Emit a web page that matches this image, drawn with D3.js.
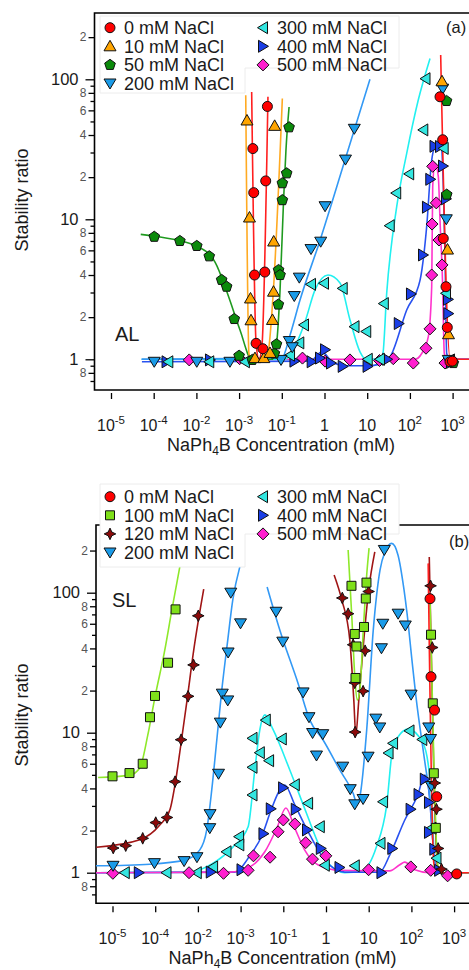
<!DOCTYPE html>
<html><head><meta charset="utf-8">
<script src="https://cdn.jsdelivr.net/npm/d3@7"></script>
<style>
html,body{margin:0;padding:0;background:#fff;}
svg{display:block;font-family:"Liberation Sans",Arial,Helvetica,sans-serif;}
</style></head><body>
<svg id="chart" width="469" height="970"></svg>
<script>
// ---------- axis ticks ----------
const xTickValues = [1e-5, 1e-4, 1e-3, 1e-2, 1e-1, 1, 10, 100, 1000];
const xTickBase = ["10", "10", "10", "10", "10", "1", "10", "10", "10"];
const xTickExp = ["-5", "-4", "-2", "-3", "-1", "", "", "2", "3"];
const yMajorTicks = [1, 10, 100];
const yMajorText = ["1", "10", "100"];
const yLabeledMinor = [0.8, 2, 4, 6, 8, 20, 40, 60, 80, 200];
const yLabeledMinorText = ["8", "2", "4", "6", "8", "2", "4", "6", "8", "2"];
const yPlainMinor = [0.7, 0.9, 3, 5, 7, 9, 30, 50, 70, 90];

// ---------- panel (a): AL, measured points [NaPh4B mM, stability ratio] ----------
const alNaCl0 = [[2.1e-2,32],[2.2e-2,15.5],[2.3e-2,4.0],[2.5e-2,1.3],[3.6e-2,1.19],[4.0e-2,4.2],[4.2e-2,18.8],[4.6e-2,64],
  [507,75],[586,37],[605,7.3],[700,3.3],[751,1.69],[869,0.96],[990,0.97]];
const alNaCl10 = [[1.53e-2,50.8],[1.75e-2,10.3],[1.85e-2,2.72],[1.9e-2,1.9],[2.35e-2,1.02],[3.8e-2,1.02],[5.3e-2,1.11],
  [6.05e-2,1.91],[6.4e-2,3.04],[6.46e-2,6.94],[6.8e-2,46.5],[565,96.8],[759,6.08],[801,1.51]];
const alNaCl50 = [[1.03e-4,7.5],[4.1e-4,7.0],[1.02e-3,6.45],[2.0e-3,5.44],[3.9e-3,3.69],[5.1e-3,3.3],[7.7e-3,1.94],
  [1.0e-2,1.06],[2.04e-2,0.99],[6.7e-2,1.1],[7.5e-2,1.28],[8.3e-2,2.46],[8.4e-2,4.34],[9.1e-2,4.0],[0.103,13.7],
  [0.103,18.1],[0.13,21.3],[0.148,45.4],[720,70],[728,15],[1040,0.94]];
const alNaCl200 = [[1.03e-4,0.96],[1.02e-3,0.96],[6.1e-3,0.96],[9.6e-2,0.99],[0.15,1.35],[0.176,1.22],[0.196,2.83],
  [0.257,3.83],[0.483,6.13],[0.815,6.92],[1.03,12.4],[3.1,26.7],[4.99,44.3],[586,85.7],[712,10],[793,0.99]];
const alNaCl300 = [[2.2e-4,0.96],[2.0e-3,0.96],[1.37e-2,0.96],[0.156,1.07],[0.257,1.31],[0.331,1.76],[0.483,3.43],
  [0.973,3.49],[2.67,3.21],[5.05,1.71],[9.5,1.58],[10.3,1.0],[19.9,1.0],[24.5,2.5],[33.7,9.0],[47.8,15.4],
  [96.3,21.1],[206,43.5],[232,101],[618,32.1],[700,2.96],[869,0.99]];
const alNaCl400 = [[2.0e-4,0.96],[2.08e-3,0.99],[0.198,0.97],[0.501,0.96],[0.785,1.02],[1.03,1.17],[1.42,0.94],
  [2.67,0.89],[10.2,0.89],[29.4,1.0],[54.9,1.8],[106,2.93],[203,5.56],[251,12.2],[300,19.3],[377,33.2],[507,33.1],
  [596,24],[700,14],[780,2.68],[793,2.12],[918,0.95]];
const alNaCl500 = [[6.8e-4,0.99],[1.03e-2,1.01],[0.305,1.02],[1.03,0.97],[3.95,0.99],[19.4,0.98],[40.8,1.01],
  [120,0.94],[238,1.2],[296,1.65],[324,4.0],[330,9.25],[342,23.9],[415,13.1],[480,7.11],[565,4.72],[663,0.94]];

// fitted curves for panel (a), one array per drawn segment
const alFit0 = [
  [[1.97e-2,81],[2.5e-2,1.3],[2.92e-2,1.0],[3.4e-2,1.2],[4.74e-2,75]],
  [[526,149],[880,1.0],[2420,1.0]]];
const alFit10 = [[[1.43e-2,77],[1.7e-2,1.1],[1.9e-2,1.0],[4.27e-2,1.0],[4.8e-2,1.11],[6.3e-2,2.98],[0.103,73]]];
const alFit50 = [[[4.97e-5,7.8],[1.41e-4,7.47],[1.0e-3,6.45],[2.73e-3,4.95],[5.5e-3,2.88],[1.05e-2,1.62],
  [1.97e-2,1.0],[5.9e-2,1.0],[7.5e-2,1.28],[9.1e-2,3.13],[0.11,13.7],[0.125,31],[0.148,63.4]]];
const alFit200 = [[[5.2e-5,1.0],[0.1,1.02],[0.156,1.49],[0.267,2.65],[0.785,7.07],[3.02,26.5],[11.6,100]]];
const alFit300 = [[[5.2e-5,1.0],[0.119,1.0],[0.173,1.13],[0.349,1.85],[0.6,3.13],[1.21,4.0],[2.31,3.51],[3.96,1.91],
  [6.78,1.13],[9.4,1.0],[19.9,1.0],[23.1,1.07],[28.6,2.96],[49.1,12.3],[84.2,29.6],[157,71.1],[296,141]]];
const alFit400 = [[[5.3e-5,0.96],[0.457,0.97],[0.873,1.13],[1.5,0.96],[3.02,0.9],[11.6,0.9],[26.1,0.96],[34.2,1.04],
  [84.1,2.25],[173,3.68],[247,8.85],[324,26.5],[424,34.9],[556,31.3],[606,17.1],[663,5.75],[727,1.1],[869,1.0],[2420,1.0]]];
const alFit500 = [[[5.3e-5,1.0],[131,1.0],[189,1.1],[270,1.45],[324,3.3],[342,17.1],[387,25.1],[463,20.2],
  [507,9.89],[586,3.3],[639,1.1],[739,1.0],[2420,1.0]]];

// ---------- panel (b): SL ----------
const slNaCl0 = [[273,90.6],[288,25.1],[348,14.5],[392,3.49],[1150,0.98]];
const slNaCl100 = [[1.0e-5,4.88],[2.5e-5,5.15],[5.1e-5,6.0],[7.55e-5,12.9],[9.9e-5,18.3],[2.0e-4,31.6],[3.0e-4,76],
  [3.95,112],[4.72,50.7],[5.17,41.3],[4.91,24.6],[7.76,56.9],[8.55,90.9],[8.87,118],
  [288,50.1],[317,16.2],[335,5.13],[373,2.09]];
const slNaCl120 = [[1.04e-5,1.5],[2.04e-5,1.56],[5.1e-5,1.76],[1.03e-4,2.28],[1.89e-4,2.48],[2.92e-4,4.47],
  [4.04e-4,8.91],[5.9e-4,18.2],[7.9e-4,30.5],[1.02e-3,68.4],
  [2.41,91.7],[3.3,70.8],[4.32,42.5],[4.72,22.7],[4.81,10.1],[7.4,19.8],[8.24,38.5],[9.95,102],
  [281,112],[308,40.6],[353,4.37],[387,2.84],[422,1.49],[507,1.06]];
const slNaCl200 = [[1.03e-5,1.12],[9.6e-5,1.17],[4.75e-4,1.21],[9.5e-4,1.29],[1.9e-3,2.08],[1.93e-3,2.62],
  [3.04e-3,5.09],[3.35e-3,11.8],[3.73e-3,19],[5.0e-3,17],[5.1e-3,37.4],[5.89e-3,100],[9.95e-3,60.4],
  [6.78e-2,73.1],[9.73e-2,44.7],[0.291,19.4],[0.4,12.9],[0.485,9.95],[0.841,9.76],[0.599,6.87],[2.47,5.72],
  [3.7,3.95],[4.72,3.08],[7.39,3.36],[9.68,6.74],[14.7,12.6],[18.2,10.9],[19.9,40.1],[21.4,60],[23.2,202],
  [48.9,70.8],[72,58.3],[98.4,18.7],[255,10.9],[281,9.02],[293,4.16]];
const slNaCl300 = [[1.94e-5,1.0],[1.84e-4,1.0],[9.42e-4,1.0],[2.27e-3,1.1],[4.68e-3,1.41],[9.23e-3,1.81],
  [9.33e-3,1.58],[1.9e-2,3.59],[1.9e-2,5.66],[1.9e-2,9.12],[2.82e-2,7.2],[3.89e-2,12.3],[4.65e-2,6.31],
  [9.22e-2,9.02],[0.186,4.25],[0.381,3.13],[0.716,2.13],[0.938,1.13],[4.72,1.12],[18.9,1.62],[21.7,3.21],
  [29.2,7.16],[37.2,8.4],[90.3,10.3],[180,8.94],[296,2.08],[387,1.27]];
const slNaCl400 = [[4.13e-5,1.0],[2.0e-3,1.01],[1.05e-2,1.05],[3.43e-2,1.9],[5.09e-2,2.86],[9.89e-2,4.04],
  [0.196,2.84],[0.359,2.02],[0.755,1.49],[2.07,1.09],[19.9,1.0],[35.7,1.49],[95.8,2.84],[147,3.62],[206,4.66],
  [258,3.17],[258,1.94],[344,1.47],[446,1.04]];
const slNaCl500 = [[1.02e-5,0.99],[6.2e-4,1.0],[3.98e-3,0.99],[1.5e-2,1.04],[2.0e-2,1.32],[4.9e-2,1.29],
  [7.55e-2,1.96],[0.1,2.38],[0.186,2.23],[0.336,1.64],[0.483,1.25],[0.99,1.32],[9.95,1.05],[96.8,1.1],
  [284,1.04],[705,0.95]];

const slFit0 = [[[247,162],[335,1.17],[394,1.0],[2213,1.0]]];
const slFit100 = [
  [[4.6e-6,4.79],[2.55e-5,4.98],[4.35e-5,5.6],[6.7e-5,9.6],[9.9e-5,18],[1.68e-4,39],[2.45e-4,75],[3.77e-4,153]],
  [[3.3,202],[4.06,63.8],[4.78,23.8],[5.4,17.1],[6.2,20.2],[7.48,54.2],[8.79,123],[10.2,208]],
  [[273,88.7],[335,6.38],[405,1.23],[463,1.0],[2213,1.0]]];
const slFit120 = [
  [[4.2e-6,1.52],[4.35e-5,1.72],[1.28e-4,2.19],[2.2e-4,2.8],[3.03e-4,4.59],[3.98e-4,8.17],[5.5e-4,16.6],[8.0e-4,39],[1.37e-3,106]],
  [[1.55,134],[2.35,88.7],[3.61,45.9],[4.48,17.1],[4.99,9.63],[5.86,17.1],[7.67,45.9],[10,105],[13.9,196]],
  [[262,180],[335,5],[410,1.1],[470,1.0]]];
const slFit200 = [
  [[4.1e-6,1.12],[7.5e-5,1.15],[4.93e-4,1.23],[1.1e-3,1.45],[1.61e-3,2.02],[2.11e-3,3.9],[2.77e-3,8.87],
   [3.63e-3,20.2],[5.0e-3,45.9],[6.56e-3,88.7],[9.58e-3,153]],
  [[4.18e-2,110],[8.28e-2,54.2],[0.222,22.5],[0.418,12.3],[0.855,8.87],[2.1,5.42],[4.32,3.69],[5.27,3.15],
   [6.2,3.49],[8.98,10.5],[12.8,54.2],[18.4,145],[24.1,196],[34.6,225],[48.5,186],[67.1,105],[78.9,71.6],
   [103,33],[128,18],[208,6.08],[273,3.31],[353,1.17],[462,1.0],[2213,1.0]]];
const slFit300 = [[[4.1e-6,1.0],[6.46e-4,1.01],[2.27e-3,1.17],[6.67e-3,1.53],[1.5e-2,2.13],[2.15e-2,5.42],
  [2.82e-2,10.5],[3.69e-2,13.4],[5.77e-2,10.5],[0.142,5.42],[0.349,2.66],[0.716,1.53],[1.23,1.14],[2.75,1.0],
  [6.89,1.03],[15.2,1.53],[26.1,2.96],[37.3,7.94],[83.7,10.6],[188,8.4],[246,6.04],[296,3.49],[353,1.17],
  [462,1.0],[2213,1.0]]];
const slFit400 = [[[4.1e-6,1.0],[7.31e-3,1.01],[1.64e-2,1.32],[3.13e-2,1.83],[5.38e-2,2.9],[8.28e-2,3.9],
  [0.108,4.23],[0.186,3.05],[0.418,1.86],[0.938,1.23],[2.75,1.01],[18.2,1.01],[31.2,1.34],[70,2.38],[141,3.59],
  [206,4.99],[255,3.9],[317,1.71],[372,1.08],[462,1.0],[2213,1.0]]];
const slFit500 = [[[4.1e-6,1.0],[5.58e-3,1.01],[1.64e-2,1.1],[3.69e-2,1.41],[7.05e-2,2.08],[0.115,2.9],
  [0.186,2.08],[0.318,1.45],[0.643,1.14],[2.1,1.04],[31.2,1.03],[53.5,1.14],[70,1.19],[120,1.05],[270,1.0],[2213,1.0]]];

// ---------- appearance ----------
const styles = {
  n0:   {label: "0 mM NaCl",   fill: "#ff0000", stroke: "#ff1f1f", shape: "circle"},
  n10:  {label: "10 mM NaCl",  fill: "#ffa500", stroke: "#ffaa22", shape: "triUp"},
  n50:  {label: "50 mM NaCl",  fill: "#0b8a0b", stroke: "#1f9a1f", shape: "pentagon"},
  n100: {label: "100 mM NaCl", fill: "#7fe01a", stroke: "#8ee82a", shape: "square"},
  n120: {label: "120 mM NaCl", fill: "#8b0a0a", stroke: "#a01515", shape: "star4"},
  n200: {label: "200 mM NaCl", fill: "#1a9be8", stroke: "#3399f5", shape: "triDown"},
  n300: {label: "300 mM NaCl", fill: "#33e6e0", stroke: "#22f0f0", shape: "triLeft"},
  n400: {label: "400 mM NaCl", fill: "#1a3ee6", stroke: "#2952f0", shape: "triRight"},
  n500: {label: "500 mM NaCl", fill: "#ff1fcf", stroke: "#ff33cc", shape: "diamond"}
};

function poly(pts) { return "M" + pts.map(p => p[0].toFixed(2) + "," + p[1].toFixed(2)).join("L") + "Z"; }
const shapePaths = {
  circle: "M5,0A5,5 0 1,1 -5,0A5,5 0 1,1 5,0Z",
  triUp: poly([[0,-6],[6,4.5],[-6,4.5]]),
  triDown: poly([[0,5.5],[6,-4.5],[-6,-4.5]]),
  triLeft: poly([[-5.5,0],[4.5,-6],[4.5,6]]),
  triRight: poly([[5.5,0],[-4.5,-6],[-4.5,6]]),
  diamond: poly([[0,-6],[6,0],[0,6],[-6,0]]),
  square: poly([[-4.5,-4.5],[4.5,-4.5],[4.5,4.5],[-4.5,4.5]]),
  pentagon: poly(d3.range(5).map(i => {
    const a = -Math.PI / 2 + i * 2 * Math.PI / 5; return [5.6 * Math.cos(a), 5.6 * Math.sin(a)];
  })),
  star4: poly(d3.range(8).map(i => {
    const a = -Math.PI / 2 + i * Math.PI / 4, r = i % 2 ? 2.6 : 5.8; return [r * Math.cos(a), r * Math.sin(a)];
  }))
};

const svg = d3.select("#chart");

function drawPanel(cfg) {
  const g = svg.append("g");
  const x = d3.scaleLog().domain([1e-5, 1e3]).range([cfg.x0, cfg.x1]);
  const y = d3.scaleLog().domain([1, 100]).range([cfg.yOne, cfg.yOne - 280]);

  // y axis ticks
  const yAx = g.append("g").attr("transform", `translate(${cfg.left},0)`);
  const major = yAx.append("g").call(d3.axisLeft(y).tickValues(yMajorTicks).tickSize(9).tickPadding(7)
    .tickFormat((d, i) => yMajorText[i]));
  major.selectAll("text").attr("font-size", 16.5).attr("fill", "#1a1a1a").attr("font-family", "Liberation Sans, Arial, sans-serif");
  const lab = yAx.append("g").call(d3.axisLeft(y).tickValues(yLabeledMinor).tickSize(6).tickPadding(2)
    .tickFormat((d, i) => yLabeledMinorText[i]));
  lab.selectAll("text").attr("font-size", 12).attr("fill", "#555").attr("font-family", "Liberation Sans, Arial, sans-serif");
  yAx.append("g").call(d3.axisLeft(y).tickValues(yPlainMinor).tickSize(4).tickFormat(""));
  yAx.selectAll(".domain").remove();
  yAx.selectAll("line").attr("stroke", "#000").attr("stroke-width", 1.3);

  // x axis ticks, set slightly below the frame
  const xAx = g.append("g").attr("transform", `translate(0,${cfg.bottom + 3})`)
    .call(d3.axisBottom(x).tickValues(xTickValues).tickSize(6).tickFormat(""));
  xAx.select(".domain").remove();
  xAx.selectAll("line").attr("stroke", "#000").attr("stroke-width", 1.3);
  xTickValues.forEach((v, i) => {
    const t = g.append("text").attr("x", x(v)).attr("y", cfg.bottom + 41)
      .attr("text-anchor", "middle").attr("font-size", 16).attr("fill", "#1a1a1a");
    t.append("tspan").text(xTickBase[i]);
    if (xTickExp[i]) t.append("tspan").attr("font-size", 11.5).attr("dy", -7).text(xTickExp[i]);
  });
  const xt = g.append("text").attr("x", cfg.x0 + 170).attr("y", cfg.bottom + 61)
    .attr("text-anchor", "middle").attr("font-size", 18).attr("fill", "#1a1a1a");
  xt.append("tspan").text("NaPh");
  xt.append("tspan").attr("font-size", 12).attr("dy", 4).text("4");
  xt.append("tspan").attr("dy", -4).text("B Concentration (mM)");

  g.append("text").attr("transform", `translate(28,${cfg.yTitle}) rotate(-90)`)
    .attr("text-anchor", "middle").attr("font-size", 18).attr("fill", "#1a1a1a").text("Stability ratio");

  // frame (the right edge lies outside the view)
  g.append("path").attr("d", `M480,${cfg.top}H${cfg.left}V${cfg.bottom}H480`)
    .attr("fill", "none").attr("stroke", "#000").attr("stroke-width", 1.6);

  // fitted curves
  const clipId = "clip" + cfg.id;
  svg.append("clipPath").attr("id", clipId).append("rect")
    .attr("x", cfg.left).attr("y", cfg.top).attr("width", 480 - cfg.left).attr("height", cfg.bottom - cfg.top);
  const line = d3.line().x(d => x(d[0])).y(d => y(d[1])).curve(d3.curveMonotoneX);
  const lines = g.append("g").attr("clip-path", `url(#${clipId})`);
  cfg.fits.forEach(f => {
    f.segs.forEach(seg => {
      lines.append("path").attr("d", line(seg)).attr("fill", "none")
        .attr("stroke", styles[f.key].stroke).attr("stroke-width", 1.6);
    });
  });

  // measured points
  const pts = g.append("g");
  cfg.series.forEach(s => {
    const st = styles[s.key];
    pts.append("g").selectAll("path").data(s.data).join("path")
      .attr("transform", d => `translate(${x(d[0])},${y(d[1])})`)
      .attr("d", shapePaths[st.shape]).attr("fill", st.fill)
      .attr("stroke", "#111").attr("stroke-width", 1);
  });

  // legend
  const lg = g.append("g");
  lg.append("path").attr("d", cfg.legendBox).attr("fill", "#fff").attr("stroke", "#ececec").attr("stroke-width", 1);
  cfg.legend.forEach((key, i) => {
    const col = i < 4 ? 0 : 1, row = i < 4 ? i : i - 4;
    const cx = col ? 263 : 110, cy = cfg.legendTop + row * 18.6;
    const st = styles[key];
    lg.append("path").attr("transform", `translate(${cx},${cy})`).attr("d", shapePaths[st.shape])
      .attr("fill", st.fill).attr("stroke", "#111").attr("stroke-width", 1);
    lg.append("text").attr("x", cx + 14).attr("y", cy + 6.3).attr("font-size", 18).attr("fill", "#1a1a1a").text(st.label);
  });

  g.append("text").attr("x", cfg.tagX).attr("y", cfg.tagY).attr("font-size", 16.5).attr("fill", "#1a1a1a").text(cfg.tag);
  g.append("text").attr("x", cfg.nameX).attr("y", cfg.nameY).attr("font-size", 20).attr("fill", "#1a1a1a").text(cfg.name);
}

drawPanel({
  id: "a", left: 94.5, top: 13, bottom: 390, x0: 111, x1: 452.6, yOne: 359.3, yTitle: 200,
  legendTop: 27.7, legendBox: "M100,16H399V68H245V93H100Z",
  legend: ["n0", "n10", "n50", "n200", "n300", "n400", "n500"],
  tag: "(a)", tagX: 446, tagY: 33, name: "AL", nameX: 115, nameY: 341,
  fits: [
    {key: "n500", segs: alFit500}, {key: "n400", segs: alFit400}, {key: "n300", segs: alFit300},
    {key: "n200", segs: alFit200}, {key: "n50", segs: alFit50}, {key: "n10", segs: alFit10}, {key: "n0", segs: alFit0}],
  series: [
    {key: "n500", data: alNaCl500}, {key: "n400", data: alNaCl400}, {key: "n300", data: alNaCl300},
    {key: "n200", data: alNaCl200}, {key: "n50", data: alNaCl50}, {key: "n10", data: alNaCl10}, {key: "n0", data: alNaCl0}]
});

drawPanel({
  id: "b", left: 96, top: 525, bottom: 903.3, x0: 112.5, x1: 454.1, yOne: 872.7, yTitle: 715,
  legendTop: 496.7, legendBox: "M100,484H399V534H245V567H100Z",
  legend: ["n0", "n100", "n120", "n200", "n300", "n400", "n500"],
  tag: "(b)", tagX: 449, tagY: 547, name: "SL", nameX: 112, nameY: 607,
  fits: [
    {key: "n300", segs: slFit300}, {key: "n400", segs: slFit400}, {key: "n500", segs: slFit500},
    {key: "n200", segs: slFit200}, {key: "n120", segs: slFit120}, {key: "n100", segs: slFit100}, {key: "n0", segs: slFit0}],
  series: [
    {key: "n300", data: slNaCl300}, {key: "n400", data: slNaCl400}, {key: "n500", data: slNaCl500},
    {key: "n200", data: slNaCl200}, {key: "n120", data: slNaCl120}, {key: "n100", data: slNaCl100}, {key: "n0", data: slNaCl0}]
});
</script></body></html>
